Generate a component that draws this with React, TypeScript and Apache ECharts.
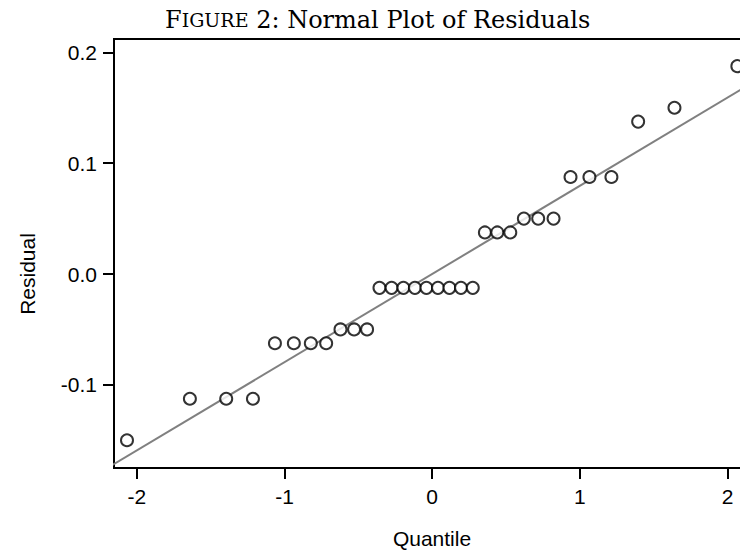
import React, { useEffect, useRef } from "react";
import * as echarts from "echarts";

const quantiles = [
  -2.067, -1.641, -1.395, -1.214, -1.065, -0.937, -0.822, -0.718, -0.621, -0.529, -0.441,
  -0.357, -0.275, -0.195, -0.117, -0.039, 0.039, 0.117, 0.195, 0.275,
  0.357, 0.441, 0.529, 0.621, 0.718, 0.822, 0.937, 1.065, 1.214, 1.395, 1.641, 2.067,
];
const residuals = [
  -0.15, -0.1125, -0.1125, -0.1125, -0.0625, -0.0625, -0.0625, -0.0625, -0.05, -0.05, -0.05,
  -0.0125, -0.0125, -0.0125, -0.0125, -0.0125, -0.0125, -0.0125, -0.0125, -0.0125,
  0.0375, 0.0375, 0.0375, 0.05, 0.05, 0.05, 0.0875, 0.0875, 0.0875, 0.1375, 0.15, 0.1875,
];
const refLineX = [-2.3, 2.3];
const refLineY = [-0.183, 0.183];
const xTicks = [-2, -1, 0, 1, 2];
const yTicks = [-0.1, 0.0, 0.1, 0.2];

export default function App() {
  const ref = useRef<HTMLDivElement>(null);
  useEffect(() => {
    if (!ref.current) return;
    const chart = echarts.init(ref.current, null, { renderer: "svg" });
    const sansFont = "'Liberation Sans', Arial, sans-serif";
    const serifFont = "'DejaVu Serif', 'Liberation Serif', serif";
    chart.setOption({
      animation: false,
      backgroundColor: "#ffffff",
      title: {
        text: "{big|F}{small|IGURE}{big| 2: Normal Plot of Residuals}",
        left: 160,
        top: 3,
        textStyle: {
          fontWeight: "normal",
          rich: {
            big: { fontFamily: serifFont, fontSize: 24, fontWeight: "normal", color: "#000" },
            small: { fontFamily: serifFont, fontSize: 19, fontWeight: "normal", color: "#000" },
          },
        },
      },
      grid: {
        left: 114,
        top: 39,
        bottom: 82,
        right: 0,
        show: true,
        borderColor: "#000",
        borderWidth: 2,
        backgroundColor: "transparent",
      },
      xAxis: {
        type: "value",
        min: -2.155,
        max: 2.2,
        axisLine: { show: true, onZero: false, lineStyle: { color: "#000", width: 2 } },
        axisTick: { show: true, length: 11, lineStyle: { color: "#000", width: 2 }, customValues: xTicks },
        axisLabel: {
          customValues: xTicks,
          color: "#000",
          fontFamily: sansFont,
          fontSize: 21,
          margin: 18,
        },
        splitLine: { show: false },
      },
      yAxis: {
        type: "value",
        min: -0.175,
        max: 0.212,
        axisLine: { show: true, onZero: false, lineStyle: { color: "#000", width: 2 } },
        axisTick: { show: true, length: 11, lineStyle: { color: "#000", width: 2 }, customValues: yTicks },
        axisLabel: {
          customValues: yTicks,
          color: "#000",
          fontFamily: sansFont,
          fontSize: 21,
          margin: 17,
          formatter: (v: number) => v.toFixed(1),
        },
        splitLine: { show: false },
      },
      graphic: [
        {
          type: "text",
          x: 27,
          y: 274,
          rotation: Math.PI / 2,
          style: {
            text: "Residual",
            fill: "#000",
            font: "21px 'Liberation Sans', Arial, sans-serif",
            align: "center",
            verticalAlign: "middle",
          },
        },
        {
          type: "text",
          x: 432,
          y: 538,
          style: {
            text: "Quantile",
            fill: "#000",
            font: "21px 'Liberation Sans', Arial, sans-serif",
            align: "center",
            verticalAlign: "middle",
          },
        },
      ],
      series: [
        {
          type: "line",
          data: refLineX.map((x, i) => [x, refLineY[i]]),
          showSymbol: false,
          symbol: "none",
          lineStyle: { color: "#808080", width: 2 },
          clip: true,
          z: 1,
        },
        {
          type: "scatter",
          data: quantiles.map((q, i) => [q, residuals[i]]),
          symbol: "circle",
          symbolSize: 12,
          itemStyle: { color: "#ffffff", borderColor: "#000", borderWidth: 2 },
          clip: false,
          z: 2,
        },
      ],
    });
    return () => chart.dispose();
  }, []);
  return (
    <div
      style={{
        position: "absolute",
        left: 0,
        top: 0,
        width: 740,
        height: 550,
        overflow: "hidden",
      }}
    >
      <div ref={ref} style={{ width: 757, height: 550 }} />
    </div>
  );
}
